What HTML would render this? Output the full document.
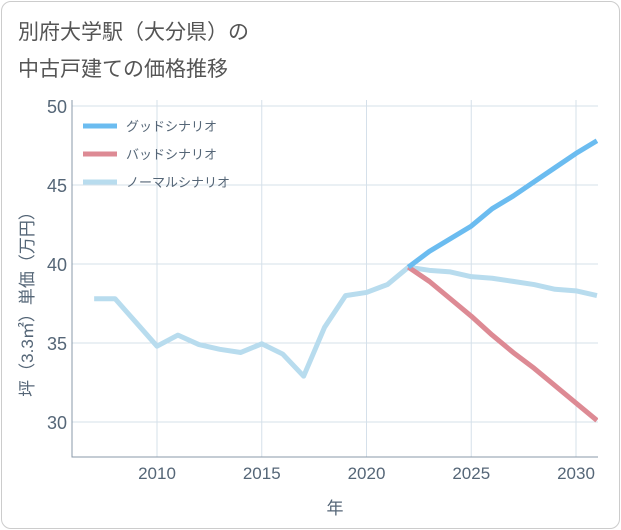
<!DOCTYPE html>
<html><head><meta charset="utf-8"><style>
body{margin:0;background:#fff;font-family:"Liberation Sans","Noto Sans CJK JP",sans-serif;}
#card{position:absolute;left:1px;top:1px;width:617px;height:526px;border:1px solid #ccc;border-radius:10px;background:#fff;}
</style></head><body>
<div id="card"></div>
<svg id="chart" width="621" height="530" style="position:absolute;left:0;top:0">
<text x="18" y="39" font-size="21" fill="#555">別府大学駅（大分県）の</text>
<text x="18" y="76" font-size="21" fill="#555">中古戸建ての価格推移</text>
<g id="grid"></g><g id="series"></g><g id="axes"></g>
</svg>
<script>
const years=[2007,2008,2009,2010,2011,2012,2013,2014,2015,2016,2017,2018,2019,2020,2021,2022,2023,2024,2025,2026,2027,2028,2029,2030,2031];
const normal=[37.8,37.8,36.3,34.8,35.5,34.9,34.6,34.4,34.95,34.3,32.9,36.0,38.0,38.2,38.7,39.8,39.6,39.5,39.2,39.1,38.9,38.7,38.4,38.3,38.0];
const goodYears=[2022,2023,2024,2025,2026,2027,2028,2029,2030,2031];
const good=[39.8,40.8,41.6,42.4,43.5,44.3,45.2,46.1,47.0,47.8];
const bad=[39.8,38.9,37.8,36.7,35.5,34.4,33.4,32.3,31.2,30.1];
const yTicks=[30,35,40,45,50];
const xTicks=[2010,2015,2020,2025,2030];
const legendNames=["グッドシナリオ","バッドシナリオ","ノーマルシナリオ"];
const colors=["#6bbcf0","#dd8a94","#b8dcee"];
const L=72,R=598,T=100,B=457;
const X=v=>157+(v-2010)*20.95;
const Y=v=>422-(v-30)*15.8;
const NS="http://www.w3.org/2000/svg";
function mk(tag,parent,attrs){const e=document.createElementNS(NS,tag);for(const k in attrs)e.setAttribute(k,attrs[k]);parent.appendChild(e);return e;}
const grid=document.getElementById('grid'),ser=document.getElementById('series'),ax=document.getElementById('axes');
for(const t of yTicks){
 const l=mk('line',grid,{x1:L,x2:R,y1:Y(t),y2:Y(t),stroke:'#d5e0ea','stroke-width':1});
 
 
 const tx=mk('text',ax,{x:L-5,y:Y(t)+7,'text-anchor':'end','font-size':18,fill:'#556677'});tx.textContent=t;
 
 
}
for(const t of xTicks){
 const l=mk('line',grid,{x1:X(t),x2:X(t),y1:T,y2:B,stroke:'#d5e0ea','stroke-width':1});
 
 
 const tx=mk('text',ax,{x:X(t),y:B+22,'text-anchor':'middle','font-size':17,fill:'#556677'});tx.textContent=t;
 
 
}
const fr=mk('polyline',ax,{points:L+','+T+' '+L+','+B+' '+R+','+B,fill:'none',stroke:'#8899aa','stroke-width':1});


const xt=mk('text',ax,{x:335,y:514,'text-anchor':'middle','font-size':17,fill:'#556677'});xt.textContent='年';


const yt=mk('text',ax,{x:0,y:0,'text-anchor':'middle','font-size':17,fill:'#556677',transform:'translate(33,300) rotate(-90)'});yt.textContent='坪（3.3㎡）単価（万円）';


const cp=mk('clipPath',ser,{id:'clip'});mk('rect',cp,{x:L,y:T,width:R-L,height:B-T});
function line(xs,ys,c,name){
 const p=mk('polyline',ser,{points:xs.map((x,i)=>X(x)+','+Y(ys[i])).join(' '),fill:'none',stroke:c,'stroke-width':5,'stroke-linejoin':'round','clip-path':'url(#clip)'});
 
 
}
line(years,normal,colors[2],'normal-line');
line(goodYears,bad,colors[1],'bad-line');
line(goodYears,good,colors[0],'good-line');
legendNames.forEach((n,i)=>{
 const y=126+i*28;
 const s=mk('line',ax,{x1:83,x2:117,y1:y,y2:y,stroke:colors[i],'stroke-width':5});
 
 
 const t=mk('text',ax,{x:126,y:y+5,'font-size':13,fill:'#556677'});t.textContent=n;
 
 
});
</script>
</body></html>
